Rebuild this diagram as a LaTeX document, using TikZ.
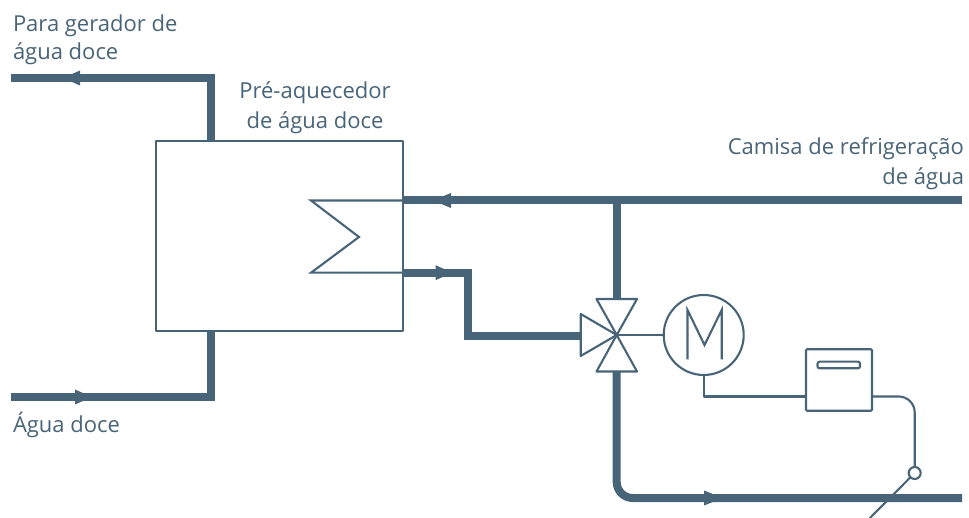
\documentclass[tikz,border=0pt]{standalone}
\usepackage{fontspec}
\setmainfont{Open Sans}
\definecolor{pipe}{HTML}{486478}
\tikzset{
  x=1pt,y=-1pt,
  thin line/.style={draw=pipe,line width=2.1pt,line join=round},
  thick pipe/.style={draw=pipe,line width=8pt,line join=miter},
  flow/.style={fill=pipe,draw=none},
  label text/.style={text=pipe,font=\fontsize{22pt}{30pt}\selectfont,inner sep=0pt,outer sep=0pt},
  equip/.style={thin line,fill=white,inner sep=0pt,outer sep=0pt,minimum width=#1},
}
\begin{document}
\begin{tikzpicture}
\useasboundingbox (0,0) rectangle (969,518);
% coordinates
\coordinate (tlEnd) at (11,78);
\coordinate (tlCorner) at (211,78);
\coordinate (tlBox) at (211,141);
\coordinate (blEnd) at (11,397);
\coordinate (blCorner) at (211,397);
\coordinate (blBox) at (211,331);
\coordinate (hotIn) at (962,200.5);
\coordinate (hxA) at (403,200.5);
\coordinate (hxB) at (403,272.7);
\coordinate (hxA1) at (311,200.5);
\coordinate (hxM) at (359,237);
\coordinate (hxB1) at (311,272.7);
\coordinate (tee) at (616.7,200.5);
\coordinate (vc) at (616.7,335);
\coordinate (vt) at (616.7,299);
\coordinate (vb) at (616.7,371);
\coordinate (vl) at (580.7,335);
\coordinate (rA) at (468,272.7);
\coordinate (rB) at (468,336);
\coordinate (vlp) at (582,336);
\coordinate (botCorner) at (616.7,498);
\coordinate (botEnd) at (962,498);
% main box
\node[equip=247pt,minimum height=190pt] (hx) at (279.5,236) {};
% pipes
\draw[thick pipe] (tlEnd) -- (tlCorner) -- (tlBox);
\draw[thick pipe] (blEnd) -- (blCorner) -- (blBox);
\draw[thick pipe] (hotIn) -- (hxA);
\draw[thick pipe] (hxB) -- (rA) -- (rB) -- (vlp);
\draw[thick pipe] (tee) -- (vt);
\draw[thick pipe,rounded corners=16pt] (vb) -- (botCorner) -- (botEnd);
% flow arrows
\fill[flow] (63,78) -- (80,70.5) -- (80,85.5) -- cycle;
\fill[flow] (92,397) -- (75,389.5) -- (75,404.5) -- cycle;
\fill[flow] (433,200.5) -- (451,193) -- (451,208) -- cycle;
\fill[flow] (452,272.7) -- (435.6,265.2) -- (435.6,280.2) -- cycle;
\fill[flow] (723,498) -- (704,490.5) -- (704,505.5) -- cycle;
% exchanger coil
\draw[thin line,line join=miter] (hxA) -- (hxA1) -- (hxM) -- (hxB1) -- (hxB);
% valve
\draw[thin line,fill=white] (vc) -- (596.5,299) -- (637,299) -- cycle;
\draw[thin line,fill=white] (vc) -- (596.5,371.5) -- (637,371.5) -- cycle;
\draw[thin line,fill=white] (vc) -- (580.7,314) -- (580.7,356) -- cycle;
% motor
\node[equip=80pt,circle] (motor) at (703.7,335) {};
\draw[thin line,line join=miter] (687.5,359.5) -- (687.5,310) -- (704.5,345) -- (721.7,310) -- (721.7,359.5);
\draw[thin line] (vc) -- (motor.west);
% controller
\node[equip=66pt,minimum height=61.5pt,rounded corners=1pt] (ctrl) at (839,380) {};
\draw[thin line,rounded corners=2pt] (817.5,361.7) rectangle (860,368.3);
\draw[thin line] (motor.south) -- (703.7,396.5) -- (ctrl.west |- 0,396.5);
% sensor
\node[equip=12pt,circle] (sensor) at (914.7,473) {};
\draw[thin line,rounded corners=16pt] (ctrl.east |- 0,396.5) -- (914.7,396.5) -- (sensor.north);
\begin{scope}
\clip (0,0) rectangle (969,518);
\draw[thin line] (sensor.225) -- (868,520);
\end{scope}
% labels
\node[label text,anchor=base west] (l1) at (13,32) {Para gerador de};
\node[label text,anchor=base west] (l2) at (13,60) {água doce};
\node[label text,anchor=base] (l3) at (315,99) {Pré-aquecedor};
\node[label text,anchor=base] (l4) at (315,129) {de água doce};
\node[label text,anchor=base east] (l5) at (964,155) {Camisa de refrigeração};
\node[label text,anchor=base east] (l6) at (964,185) {de água};
\node[label text,anchor=base west] (l7) at (13,432) {Água doce};
\end{tikzpicture}
\end{document}
